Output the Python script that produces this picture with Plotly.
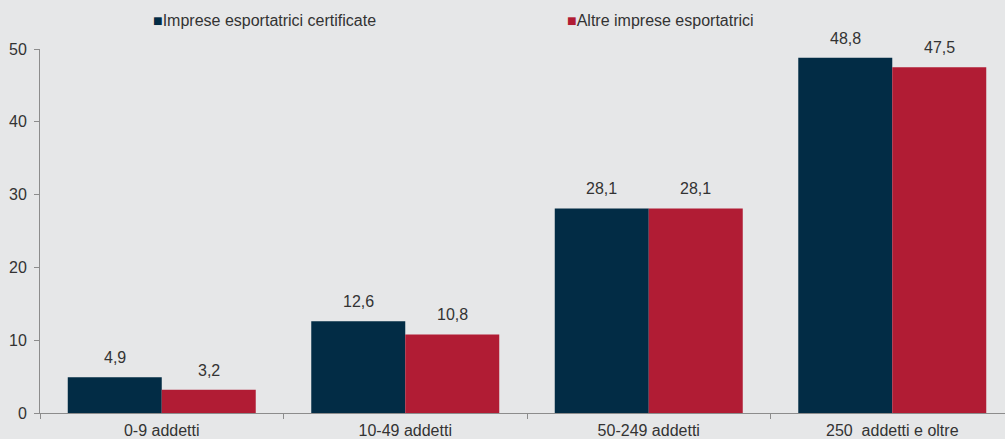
import plotly.graph_objects as go

categories = ["0-9 addetti", "10-49 addetti", "50-249 addetti", "250\u00a0 addetti e oltre"]
certificate = [4.9, 12.6, 28.1, 48.8]
altre = [3.2, 10.8, 28.1, 47.5]
series_names = ["Imprese esportatrici certificate", "Altre imprese esportatrici"]
y_ticks = [0, 10, 20, 30, 40, 50]

NAVY = "#022C45"
RED = "#B11C34"
BG = "#E6E7E8"
TEXT = "#333333"
FONT = "Liberation Sans, Arial, sans-serif"
FS = 16

fig = go.Figure()
fig.add_trace(go.Bar(x=categories, y=certificate, name=series_names[0],
                     marker=dict(color=NAVY, line=dict(width=0))))
fig.add_trace(go.Bar(x=categories, y=altre, name=series_names[1],
                     marker=dict(color=RED, line=dict(width=0))))

# value labels above each bar, half a bar width left/right of the category centre
half_bar = 47
annotations = []
for cat, a, b in zip(categories, certificate, altre):
    for val, shift in ((a, -half_bar), (b, half_bar)):
        annotations.append(dict(
            x=cat, y=val, xref="x", yref="y", xshift=shift, yshift=9,
            text=f"{val:.1f}".replace(".", ","), showarrow=False,
            yanchor="bottom", font=dict(family=FONT, size=FS, color=TEXT)))

# legend row drawn as text with coloured square glyphs (pixel positions -> paper)
plot_l, plot_w, plot_b, plot_h = 40, 965, 26, 439 - 49 - 26
for name, color, xpx in ((series_names[0], NAVY, 151), (series_names[1], RED, 565)):
    annotations.append(dict(
        x=(xpx - plot_l) / plot_w, y=(439 - plot_b - 20) / plot_h,
        xref="paper", yref="paper", showarrow=False,
        xanchor="left", yanchor="middle",
        text=f"<span style='color:{color};font-size:16px'>■</span>{name}",
        font=dict(family=FONT, size=FS, color=TEXT)))

fig.update_layout(
    width=1005, height=439,
    margin=dict(l=40, r=0, t=49, b=26),
    paper_bgcolor=BG, plot_bgcolor=BG,
    barmode="group", bargap=0.228, bargroupgap=0,
    showlegend=False,
    font=dict(family=FONT, size=FS, color=TEXT),
    annotations=annotations,
    xaxis=dict(
        range=[-0.5, 3.463], showgrid=False, zeroline=False,
        showline=True, linecolor="#8C8C8C", linewidth=1,
        ticks="outside", tickson="boundaries", ticklen=5, tickcolor="#8C8C8C",
        ticklabelstandoff=3,
        tickfont=dict(family=FONT, size=FS, color=TEXT),
    ),
    yaxis=dict(
        range=[0, 50], tickvals=y_ticks, showgrid=False, zeroline=False,
        showline=True, linecolor="#8C8C8C", linewidth=1,
        ticks="outside", ticklen=5, tickcolor="#8C8C8C",
        ticklabelstandoff=4,
        tickfont=dict(family=FONT, size=FS, color=TEXT),
    ),
)

fig.write_html("out.html")
